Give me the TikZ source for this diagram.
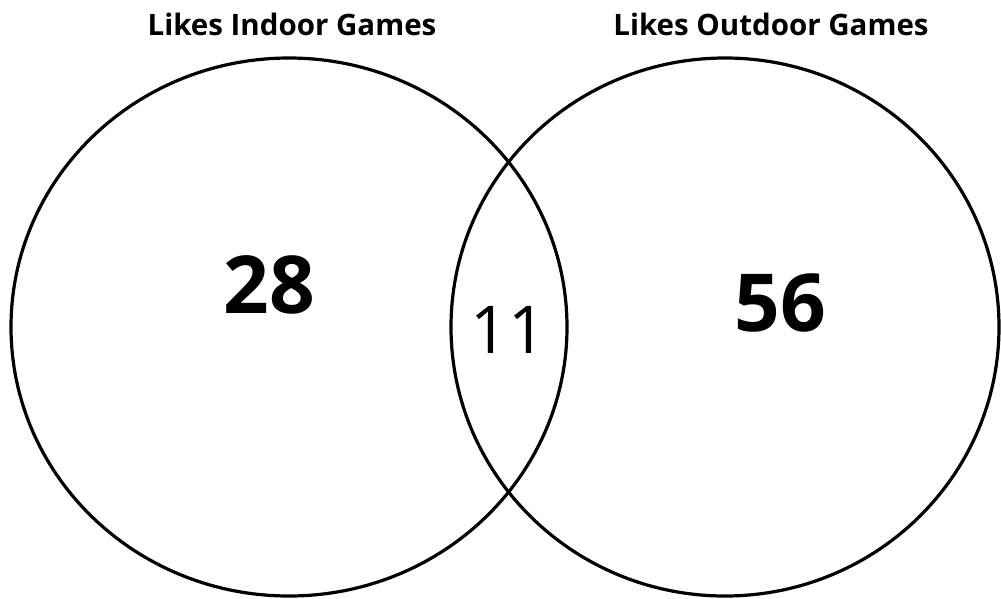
\documentclass[tikz,border=0pt]{standalone}
\usepackage{fontspec}
\setmainfont{Open Sans}
\usetikzlibrary{shapes.geometric,positioning}
\tikzset{
  % Set outline
  SC/.style={ellipse,draw=black,line width=3.2pt,inner sep=0pt,
             minimum width=556pt,minimum height=538pt},
  % Set title
  TL/.style={font=\fontsize{29.5}{32}\selectfont\bfseries},
  % Counts
  NB/.style={font=\fontsize{80}{90}\selectfont\bfseries},
  NR/.style={font=\fontsize{66}{72}\selectfont}
}

\begin{document}
\begin{tikzpicture}[x=1pt,y=1pt,every node/.style={align=center}]
  \useasboundingbox (0,0) rectangle (1001,-598);
  \node[SC] (indoor) at (289,-327) {};
  \node[SC,minimum width=548pt] (outdoor) at (725,-327) {};
  \node[TL] (indoorT) at (292,-24) {Likes Indoor Games};
  \node[TL] (outdoorT) at (771,-24) {Likes Outdoor Games};
  \node[NB] (onlyIn) at (269,-285) {28};
  \node[NR] (both) at (508,-330) {11};
  \node[NB] (onlyOut) at (780,-303) {56};
\end{tikzpicture}
\end{document}
